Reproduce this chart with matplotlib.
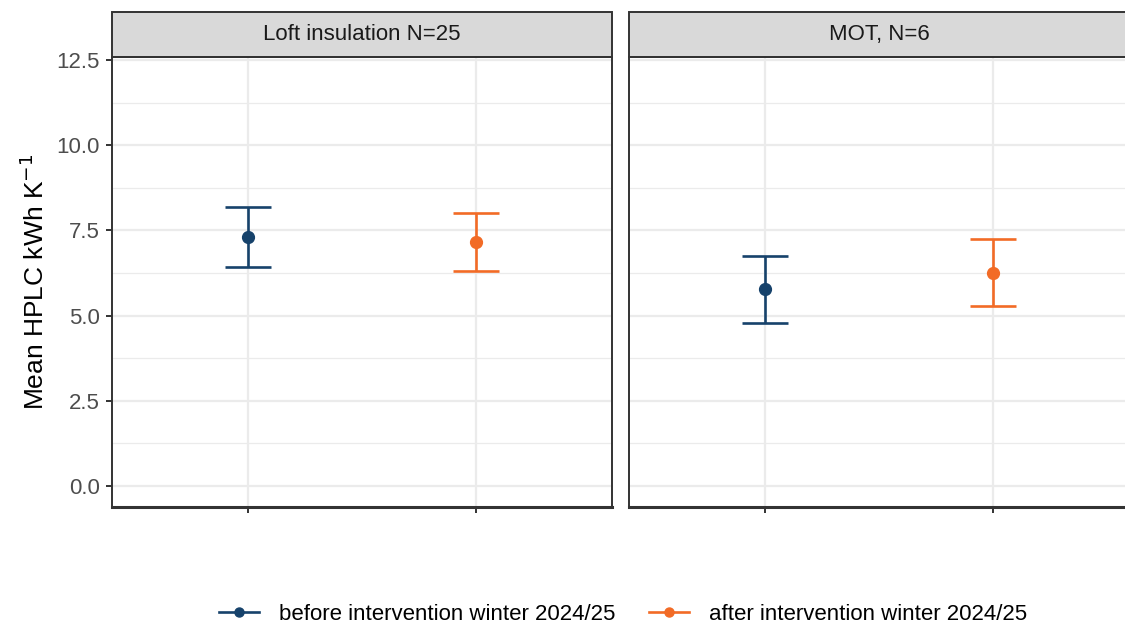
import matplotlib
matplotlib.use("Agg")
import matplotlib.pyplot as plt
from matplotlib.patches import Rectangle
from matplotlib.lines import Line2D

plt.rcParams['font.family'] = ['Liberation Sans', 'DejaVu Sans']

# mean HPLC with lower/upper bounds per intervention group
panels = ['Loft insulation N=25', 'MOT, N=6']
periods = ['before intervention winter 2024/25', 'after intervention winter 2024/25']
means = [[7.31, 7.16], [5.77, 6.26]]
lower = [[6.43, 6.30], [4.79, 5.27]]
upper = [[8.18, 8.02], [6.76, 7.24]]
colors = ['#16426b', '#f26b26']

W, H = 1125, 626
fig = plt.figure(figsize=(W / 100, H / 100), dpi=100)

grey20 = '#333333'
fs = 16
lefts = [112, 629]
axes = []
for i, name in enumerate(panels):
    ax = fig.add_axes([lefts[i] / W, (H - 507) / H, 500 / W, 450 / H])
    axes.append(ax)
    for j in range(2):
        x = j + 1
        m = means[i][j]
        err = [[m - lower[i][j]], [upper[i][j] - m]]
        ax.errorbar(x, m, yerr=err, fmt='o', color=colors[j], ms=8.5,
                    elinewidth=1.9, capsize=16.5, capthick=1.9, zorder=3)
    ax.set_xlim(0.4, 2.6)
    ax.set_ylim(-0.62, 12.59)
    ax.set_xticks([1, 2])
    ax.set_xticklabels(['', ''])
    ax.set_yticks([0, 2.5, 5, 7.5, 10, 12.5])
    ax.set_yticks([1.25, 3.75, 6.25, 8.75, 11.25], minor=True)
    ax.grid(True, which='major', color='#ebebeb', lw=1.6, zorder=0)
    ax.grid(True, which='minor', axis='y', color='#ebebeb', lw=0.9, zorder=0)
    ax.set_axisbelow(True)
    ax.tick_params(axis='both', which='major', color=grey20, width=1.4,
                   length=4, labelsize=fs, labelcolor='#4d4d4d', pad=5)
    ax.tick_params(axis='y', which='minor', length=0)
    for s in ax.spines.values():
        s.set_color(grey20)
        s.set_linewidth(1.4)
    ax.spines['bottom'].set_linewidth(2.2)
    if i == 0:
        ax.set_yticklabels(['0.0', '2.5', '5.0', '7.5', '10.0', '12.5'])
        ax.set_ylabel('Mean HPLC kWh K$^{-1}$', fontsize=19, labelpad=5)
    else:
        ax.set_yticklabels([])
        ax.tick_params(axis='y', length=0)
    # facet strip
    ax.add_patch(Rectangle((0, 1), 1, 45 / 450, transform=ax.transAxes,
                           facecolor='#d9d9d9', edgecolor=grey20, lw=1.4,
                           clip_on=False))
    ax.text(0.5, 1 + 22.5 / 450, name, transform=ax.transAxes,
            ha='center', va='center', fontsize=fs, color='#1a1a1a')

handles = [Line2D([0], [0], color=c, marker='o', ms=6.5, lw=1.9) for c in colors]
fig.legend(handles, periods, loc='center', bbox_to_anchor=(623 / W, (H - 614) / H),
           ncol=2, frameon=False, fontsize=fs, handlelength=1.8,
           columnspacing=1.5, handletextpad=0.9)

fig.savefig('out.png', dpi=100)
